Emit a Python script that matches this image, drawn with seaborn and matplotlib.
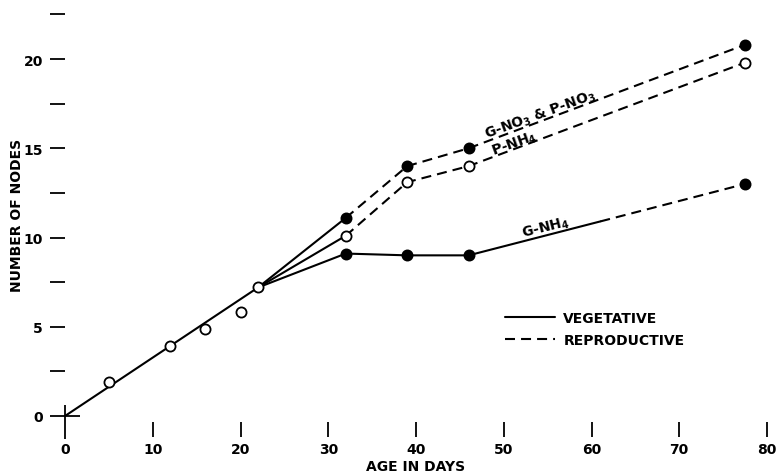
import matplotlib
matplotlib.use("Agg")
import matplotlib.pyplot as plt
from matplotlib.lines import Line2D
from matplotlib.ticker import MultipleLocator
import pandas as pd
import seaborn as sns

# ---- data ----
early_days = [5, 12, 16, 20, 22]
early_nodes = [1.9, 3.9, 4.9, 5.8, 7.2]
trend_days = [0, 22]
trend_nodes = [0, 7.2]

branch_days = [22, 32, 39, 46, 77.5]
no3_nodes = [7.2, 11.1, 14.0, 15.0, 20.8]    # G-NO3 & P-NO3
pnh4_nodes = [7.2, 10.1, 13.1, 14.0, 19.8]   # P-NH4
gnh4_nodes = [7.2, 9.1, 9.0, 9.0, 13.0]      # G-NH4

flower_day_no3 = 32        # vegetative -> reproductive switch
flower_day_pnh4 = 32
gnh4_flower_day = 61       # switch point on the G-NH4 line
gnh4_flower_nodes = 10.9

x_ticks = [0, 10, 20, 30, 40, 50, 60, 70, 80]
y_ticks = [0, 5, 10, 15, 20]

# ---- build segments ----
rows = []
def add(seg, phase, xs, ys):
    for x, y in zip(xs, ys):
        rows.append(dict(seg=seg, phase=phase, day=x, nodes=y))

add("trend", "veg", trend_days, trend_nodes)
for name, ys, fd in [("no3", no3_nodes, flower_day_no3), ("pnh4", pnh4_nodes, flower_day_pnh4)]:
    vx = [d for d in branch_days if d <= fd]
    rx = [d for d in branch_days if d >= fd]
    add(name + "_v", "veg", vx, ys[:len(vx)])
    add(name + "_r", "rep", rx, ys[len(branch_days) - len(rx):])
gv = [(d, n) for d, n in zip(branch_days, gnh4_nodes) if d < gnh4_flower_day] + [(gnh4_flower_day, gnh4_flower_nodes)]
gr = [(gnh4_flower_day, gnh4_flower_nodes)] + [(d, n) for d, n in zip(branch_days, gnh4_nodes) if d > gnh4_flower_day]
add("gnh4_v", "veg", [p[0] for p in gv], [p[1] for p in gv])
add("gnh4_r", "rep", [p[0] for p in gr], [p[1] for p in gr])
df = pd.DataFrame(rows)

sns.set_theme(style="white")
plt.rcParams["font.family"] = ["DejaVu Sans"]
plt.rcParams["mathtext.default"] = "regular"
plt.rcParams["text.color"] = "black"
plt.rcParams["axes.labelcolor"] = "black"
plt.rcParams["xtick.color"] = "black"
plt.rcParams["ytick.color"] = "black"

W, H = 781, 477
fig = plt.figure(figsize=(W / 100, H / 100), dpi=100)
x0, x1 = 65, 767
y0px, unit = 417, 17.85
ytop = 23
ax = fig.add_axes([x0 / W, (H - y0px) / H, (x1 - x0) / W, ytop * unit / H])

dash = (4.8, 2.9)
sns.lineplot(data=df, x="day", y="nodes", units="seg", estimator=None, style="phase",
             dashes={"veg": "", "rep": dash}, color="black", linewidth=1.5,
             legend=False, ax=ax, sort=False)

ms = 7.3
open_kw = dict(s=ms ** 2, facecolor="white", edgecolor="black", linewidth=1.3, zorder=5, ax=ax, legend=False)
fill_kw = dict(s=ms ** 2, facecolor="black", edgecolor="black", linewidth=1.3, zorder=5, ax=ax, legend=False)
sns.scatterplot(x=early_days, y=early_nodes, **open_kw)
sns.scatterplot(x=branch_days[1:], y=pnh4_nodes[1:], **open_kw)
sns.scatterplot(x=branch_days[1:], y=no3_nodes[1:], **fill_kw)
sns.scatterplot(x=branch_days[1:], y=gnh4_nodes[1:], **fill_kw)

ax.set_xlim(0, 80)
ax.set_ylim(0, ytop)
for s in ax.spines.values():
    s.set_visible(False)
ax.spines["bottom"].set_position(("outward", 4))

ax.set_xticks(x_ticks)
ax.set_yticks(y_ticks)
ax.yaxis.set_minor_locator(MultipleLocator(2.5))
fsz = 10
ax.tick_params(axis="x", which="major", direction="out", length=11, width=1.3,
               pad=4, labelsize=fsz, bottom=True, colors="black")
ax.tick_params(axis="y", which="both", direction="out", length=11, width=1.3,
               pad=5, labelsize=fsz, left=True, colors="black")
for lab in ax.get_xticklabels() + ax.get_yticklabels():
    lab.set_fontweight("bold")

# crossing tick at the origin
fig.canvas.draw()
xt0 = ax.xaxis.get_major_ticks()[0]
xt0.tick1line.set_marker("|")
xt0.tick1line.set_markersize(25)
yt0 = ax.yaxis.get_major_ticks()[0]
yt0.tick1line.set_marker("_")
yt0.tick1line.set_markersize(21)

ax.set_xlabel("AGE IN DAYS", fontsize=fsz, fontweight="bold", color="black")
ax.set_ylabel("NUMBER OF NODES", fontsize=fsz, fontweight="bold", color="black")
ax.xaxis.set_label_coords(0.5, -0.105)
ax.yaxis.set_label_coords(-0.058, 0.49)

# line labels
tk = dict(fontsize=fsz, fontweight="bold", ha="center", va="center", color="black")
ax.text(54.2, 16.9, "G-NO$_3$ & P-NO$_3$", rotation=20, **tk)
ax.text(51.2, 15.3, "P-NH$_4$", rotation=20, **tk)
ax.text(54.8, 10.55, "G-NH$_4$", rotation=14, **tk)

handles = [Line2D([], [], color="black", lw=1.5),
           Line2D([], [], color="black", lw=1.5, dashes=dash)]
leg = fig.legend(handles, ["VEGETATIVE", "REPRODUCTIVE"], loc="center left",
                 bbox_to_anchor=(505 / W, (H - 330) / H), frameon=False,
                 handlelength=3.6, handletextpad=0.6, borderpad=0, borderaxespad=0,
                 labelspacing=0.6, prop=dict(size=fsz, weight="bold"))
for t in leg.get_texts():
    t.set_color("black")

fig.savefig("out.png", dpi=100)
